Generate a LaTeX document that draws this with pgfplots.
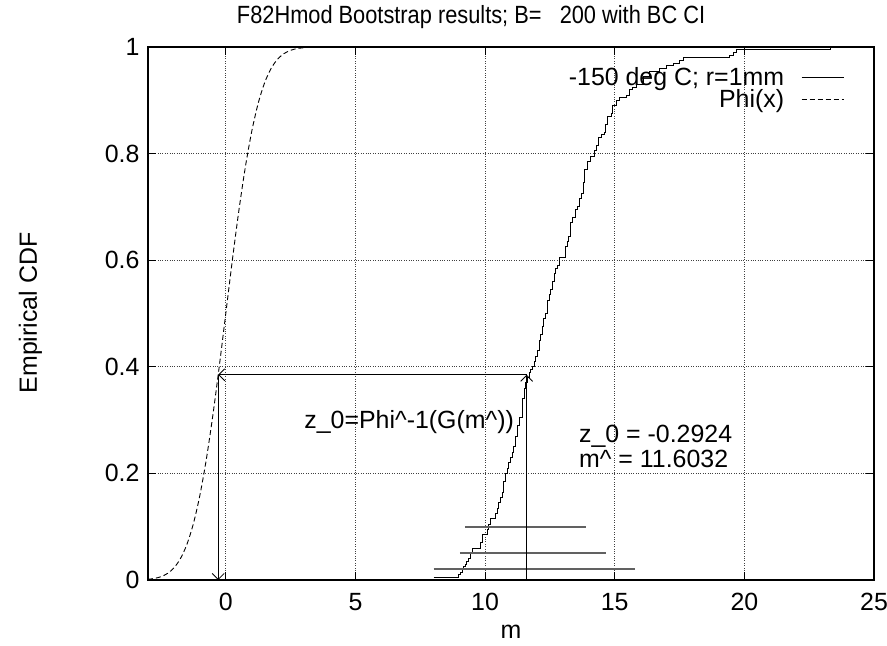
\documentclass[border=0pt]{standalone}
\usepackage{fontspec}
\setmainfont{Liberation Sans}
\usepackage{graphicx}
\usepackage{pgfplots}
\pgfplotsset{compat=1.18}
\usetikzlibrary{arrows.meta,calc}
\newcommand\gf{\fontsize{25}{28}\selectfont}

\pgfplotstableread{
x y
8.02 0.005
8.98 0.010
9.05 0.015
9.11 0.020
9.18 0.025
9.24 0.030
9.30 0.035
9.37 0.040
9.42 0.050
9.50 0.060
9.82 0.070
9.88 0.085
10.08 0.095
10.14 0.105
10.21 0.115
10.40 0.125
10.47 0.135
10.53 0.145
10.60 0.155
10.66 0.165
10.72 0.185
10.79 0.200
10.85 0.210
10.92 0.220
10.98 0.230
11.05 0.240
11.11 0.250
11.17 0.270
11.24 0.290
11.31 0.305
11.43 0.340
11.50 0.360
11.56 0.370
11.63 0.380
11.70 0.390
11.76 0.395
11.83 0.400
11.89 0.410
11.96 0.420
12.02 0.430
12.08 0.450
12.15 0.460
12.21 0.475
12.27 0.490
12.34 0.500
12.40 0.525
12.47 0.535
12.53 0.545
12.60 0.560
12.66 0.575
12.73 0.585
12.79 0.590
12.88 0.605
13.11 0.625
13.17 0.635
13.22 0.645
13.31 0.670
13.37 0.680
13.48 0.695
13.57 0.700
13.63 0.715
13.73 0.725
13.79 0.745
13.82 0.770
13.95 0.785
14.08 0.795
14.21 0.805
14.28 0.815
14.38 0.830
14.47 0.835
14.60 0.840
14.66 0.855
14.73 0.870
14.86 0.875
14.92 0.890
15.05 0.900
15.18 0.905
15.44 0.910
15.57 0.920
15.70 0.925
15.83 0.930
16.09 0.945
16.34 0.955
16.73 0.960
16.99 0.965
17.25 0.970
17.51 0.975
17.64 0.980
19.44 0.985
19.57 0.990
19.70 0.995
23.32 1.000
}\ecdf

% standard normal CDF, tabulated
\pgfplotstableread{
x y
-3.00 0.00135
-2.75 0.00298
-2.50 0.00621
-2.25 0.01222
-2.00 0.02275
-1.75 0.04006
-1.50 0.06681
-1.25 0.10565
-1.00 0.15866
-0.75 0.22663
-0.50 0.30854
-0.25 0.40129
0.00 0.50000
0.25 0.59871
0.50 0.69146
0.75 0.77337
1.00 0.84134
1.25 0.89435
1.50 0.93319
1.75 0.95994
2.00 0.97725
2.25 0.98778
2.50 0.99379
2.75 0.99702
3.00 0.99865
}\phitab

\begin{document}
\begin{tikzpicture}
\begin{axis}[
  scale only axis,
  width=726bp, height=533bp,
  xmin=-3, xmax=25, ymin=0, ymax=1,
  xtick={0,5,10,15,20,25},
  xticklabels={0,5,10,15,20,25},
  ytick={0,0.2,0.4,0.6,0.8,1},
  yticklabels={0,0.2,0.4,0.6,0.8,1},
  /pgf/number format/assume math mode=true,
  tick label style={font=\gf},
  xticklabel style={yshift=-10bp},
  yticklabel style={xshift=-5bp},
  grid=major,
  grid style={dotted, black!75, line width=0.7bp},
  axis line style={line width=1.2bp},
  tick style={black, line width=0.8bp},
  major tick length=8bp,
  title={\scalebox{0.875}[1]{F82Hmod Bootstrap results; B=\ \ \ 200 with BC CI}},
  title style={font=\gf, at={(axis description cs:0.445,1.032)}, anchor=base},
  xlabel={m},
  xlabel style={font=\gf, at={(axis description cs:0.5,-0.0976)}, anchor=center},
  ylabel={Empirical CDF},
  ylabel style={font=\gf, at={(axis description cs:-0.162,0.501)}, anchor=center},
  legend style={at={(axis description cs:0.959,0.968)}, anchor=north east,
    draw=none, fill=none, font=\gf, inner sep=0pt, row sep=-3bp, column sep=14bp,
    nodes={inner sep=3bp}},
  legend cell align=right,
  legend plot pos=right,
  legend image code/.code={\draw[#1] (0bp,0bp) -- (42bp,0bp);},
]
\coordinate (SW) at (rel axis cs:0,0);
\coordinate (NE) at (rel axis cs:1,1);

\addplot[const plot, black, line width=0.9bp] table {\ecdf};
\addlegendentry{-150 deg C; r=1mm}
\addplot[smooth, black, line width=0.9bp, dash pattern=on 5bp off 3bp] table {\phitab};
\addlegendentry{Phi(x)}

% bootstrap confidence intervals
\addplot[forget plot, black!62, line width=1.9bp] coordinates {(9.22,0.10) (13.88,0.10)};
\addplot[forget plot, black!62, line width=1.9bp] coordinates {(9.03,0.05) (14.65,0.05)};
\addplot[forget plot, black!62, line width=1.9bp] coordinates {(8.02,0.02) (15.78,0.02)};

% z_0 construction
\addplot[forget plot, black, line width=0.8bp, -{Straight Barb[length=6bp,width=12bp]}]
  coordinates {(11.6032,0) (11.6032,0.385)};
\addplot[forget plot, black, line width=0.8bp, -{Straight Barb[length=6bp,width=12bp]}]
  coordinates {(11.6032,0.385) (-0.2924,0.385)};
\addplot[forget plot, black, line width=0.8bp, -{Straight Barb[length=6bp,width=12bp]}]
  coordinates {(-0.2924,0.385) (-0.2924,0)};

\node[font=\gf, anchor=east, inner sep=0pt] at (axis cs:11.12,0.296)
  {z\_0=Phi\textasciicircum-1(G(m\textasciicircum))};
\node[font=\gf, anchor=west, inner sep=0pt] at (axis cs:13.62,0.270) {z\_0 = -0.2924};
\node[font=\gf, anchor=west, inner sep=0pt] at (axis cs:13.62,0.228) {m\textasciicircum{} = 11.6032};
\end{axis}
\pgfresetboundingbox
\path ($(SW)+(-148bp,-66bp)$) rectangle ($(NE)+(13bp,47bp)$);
\end{tikzpicture}
\end{document}
